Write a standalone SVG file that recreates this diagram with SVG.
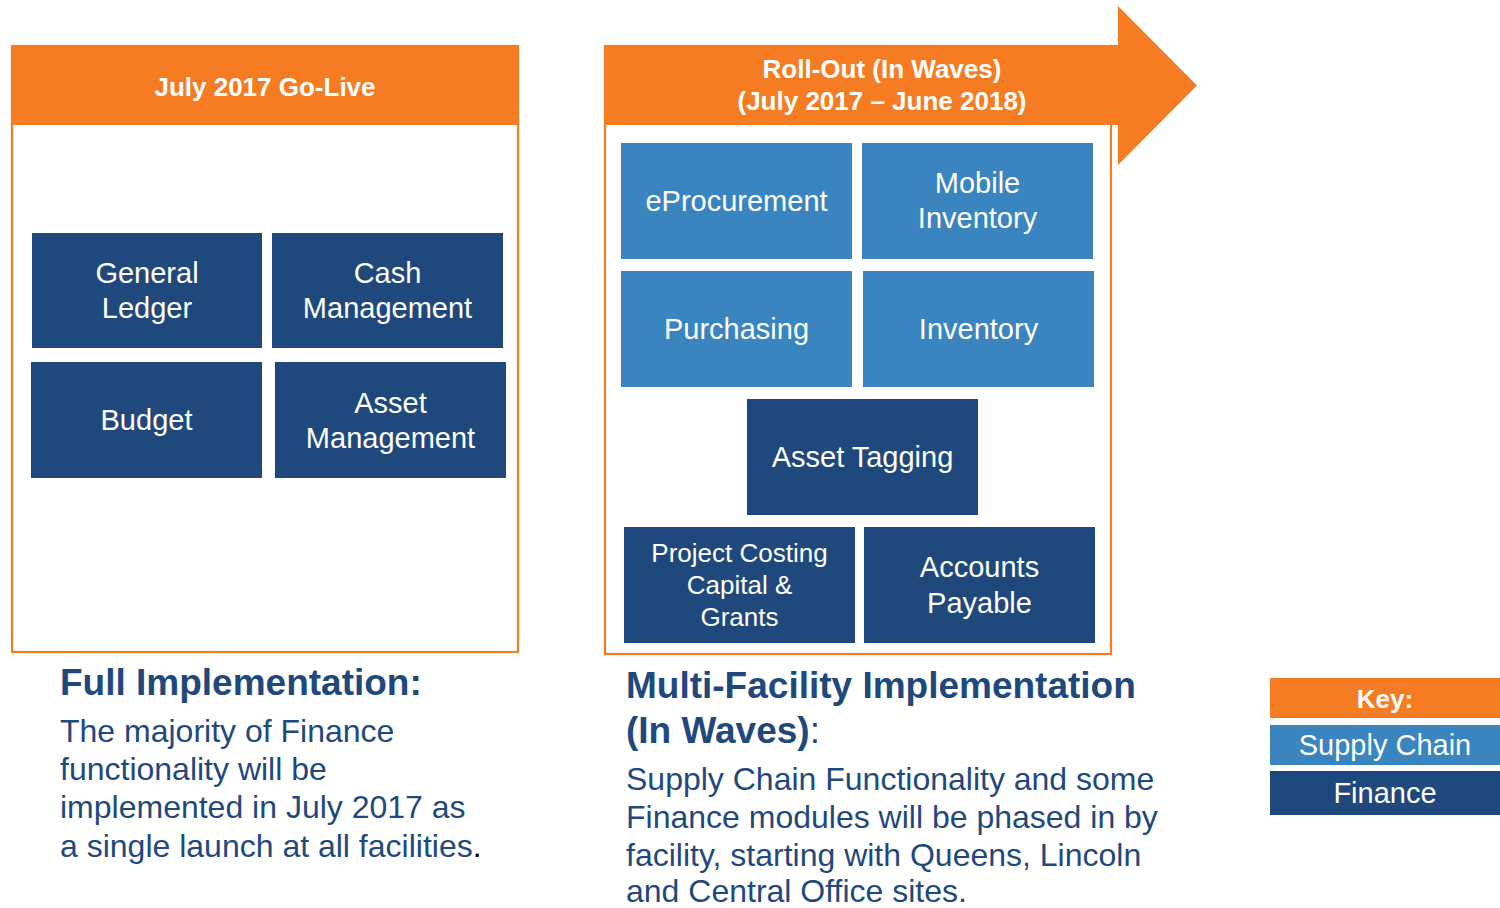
<svg xmlns="http://www.w3.org/2000/svg" width="1500" height="908" viewBox="0 0 1500 908">
<style>
.orange{fill:#F57C22}
.frame{fill:#FFFFFF;stroke:#F57C22;stroke-width:2.2}
.fin{fill:#1F497D}
.sc{fill:#3A84BF}
.hdr{font-family:"Liberation Sans",Arial,sans-serif;font-weight:bold;font-size:26px;fill:#FFFFFF;text-anchor:middle}
.lbl{font-family:"Liberation Sans",Arial,sans-serif;font-size:29px;fill:#FFFFFF;text-anchor:middle}
.lbls{font-family:"Liberation Sans",Arial,sans-serif;font-size:26px;fill:#FFFFFF;text-anchor:middle}
.h2{font-family:"Liberation Sans",Arial,sans-serif;font-weight:bold;font-size:37px;fill:#1F497D}
.body{font-family:"Liberation Sans",Arial,sans-serif;font-size:32px;fill:#1F497D}
</style>
<rect width="1500" height="908" fill="#FFFFFF"/>

<g id="panel-golive">
  <rect class="frame" x="12" y="46" width="506" height="606"/>
  <rect class="orange" x="11" y="45" width="508" height="80"/>
  <text class="hdr" x="265" y="96">July 2017 Go-Live</text>
</g>

<g id="panel-rollout">
  <rect class="frame" x="605" y="46" width="506" height="608"/>
  <polygon class="orange" points="604,45 1118,45 1118,6 1197,85.5 1118,165 1118,125 604,125"/>
  <text class="hdr" x="882" y="78">Roll-Out (In Waves)</text>
  <text class="hdr" x="882" y="110">(July 2017 – June 2018)</text>
</g>

<g id="node-general-ledger">
  <rect class="fin" x="32" y="233" width="230" height="115"/>
  <text class="lbl" x="147" y="283">General</text>
  <text class="lbl" x="147" y="318">Ledger</text>
</g>
<g id="node-cash-management">
  <rect class="fin" x="272" y="233" width="231" height="115"/>
  <text class="lbl" x="387.5" y="283">Cash</text>
  <text class="lbl" x="387.5" y="318">Management</text>
</g>
<g id="node-budget">
  <rect class="fin" x="31" y="362" width="231" height="116"/>
  <text class="lbl" x="146.5" y="430">Budget</text>
</g>
<g id="node-asset-management">
  <rect class="fin" x="275" y="362" width="231" height="116"/>
  <text class="lbl" x="390.5" y="413">Asset</text>
  <text class="lbl" x="390.5" y="448">Management</text>
</g>

<g id="node-eprocurement">
  <rect class="sc" x="621" y="143" width="231" height="116"/>
  <text class="lbl" x="736.5" y="211">eProcurement</text>
</g>
<g id="node-mobile-inventory">
  <rect class="sc" x="862" y="143" width="231" height="116"/>
  <text class="lbl" x="977.5" y="193">Mobile</text>
  <text class="lbl" x="977.5" y="228">Inventory</text>
</g>
<g id="node-purchasing">
  <rect class="sc" x="621" y="271" width="231" height="116"/>
  <text class="lbl" x="736.5" y="339">Purchasing</text>
</g>
<g id="node-inventory">
  <rect class="sc" x="863" y="271" width="231" height="116"/>
  <text class="lbl" x="978.5" y="339">Inventory</text>
</g>
<g id="node-asset-tagging">
  <rect class="fin" x="747" y="399" width="231" height="116"/>
  <text class="lbl" x="862.5" y="467">Asset Tagging</text>
</g>
<g id="node-project-costing">
  <rect class="fin" x="624" y="527" width="231" height="116"/>
  <text class="lbls" x="739.5" y="562">Project Costing</text>
  <text class="lbls" x="739.5" y="594">Capital &amp;</text>
  <text class="lbls" x="739.5" y="626">Grants</text>
</g>
<g id="node-accounts-payable">
  <rect class="fin" x="864" y="527" width="231" height="116"/>
  <text class="lbl" x="979.5" y="577">Accounts</text>
  <text class="lbl" x="979.5" y="613">Payable</text>
</g>

<g id="connectors"></g>

<g id="text-full">
  <text class="h2" x="60" y="695">Full Implementation:</text>
  <text class="body" x="60" y="742" font-size="31.8">The majority of Finance</text>
  <text class="body" x="60" y="780" font-size="31.8">functionality will be</text>
  <text class="body" x="60" y="818" font-size="31.8">implemented in July 2017 as</text>
  <text class="body" x="60" y="857" font-size="31.8">a single launch at all facilities<tspan fill="#000000">.</tspan></text>
</g>

<g id="text-multi">
  <text class="h2" x="626" y="698">Multi-Facility Implementation</text>
  <text class="h2" x="626" y="743">(In Waves)<tspan font-weight="normal">:</tspan></text>
  <text class="body" x="626" y="790">Supply Chain Functionality and some</text>
  <text class="body" x="626" y="828">Finance modules will be phased in by</text>
  <text class="body" x="626" y="866">facility, starting with Queens, Lincoln</text>
  <text class="body" x="626" y="902">and Central Office sites.</text>
</g>

<g id="key">
  <rect class="orange" x="1270" y="678" width="230" height="40"/>
  <text class="hdr" x="1385" y="708" font-size="28">Key:</text>
  <rect class="sc" x="1270" y="725" width="230" height="40"/>
  <text class="lbl" x="1385" y="755">Supply Chain</text>
  <rect class="fin" x="1270" y="771" width="230" height="44"/>
  <text class="lbl" x="1385" y="803">Finance</text>
</g>
</svg>
